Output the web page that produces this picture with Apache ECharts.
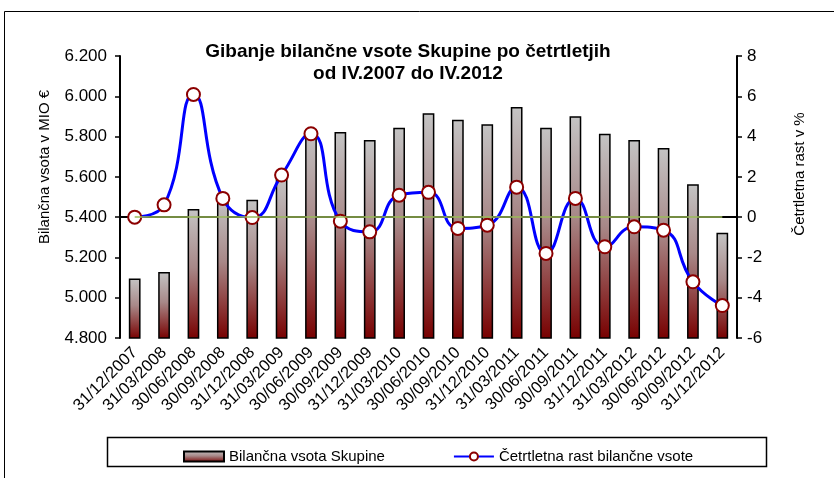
<!DOCTYPE html>
<html lang="sl">
<head>
    <meta charset="UTF-8">
    <title>Gibanje bilančne vsote</title>
    <script src="https://cdn.jsdelivr.net/npm/echarts@6/dist/echarts.min.js"></script>
    <style>
        body{ margin:0; background-color:#fff }
        #main{ width:834px; height:478px }
    </style>
</head>
<body>
<div id="main"></div>
<script type="text/javascript">
    var quarters = ['31/12/2007','31/03/2008','30/06/2008','30/09/2008','31/12/2008','31/03/2009',
        '30/06/2009','30/09/2009','31/12/2009','31/03/2010','30/06/2010','30/09/2010','31/12/2010',
        '31/03/2011','30/06/2011','30/09/2011','31/12/2011','31/03/2012','30/06/2012','30/09/2012','31/12/2012'];
    // bilancna vsota, MIO €
    var balance = [5096, 5128, 5440, 5494, 5486, 5600, 5838, 5823, 5783, 5844, 5916,
        5884, 5861, 5947, 5844, 5901, 5814, 5783, 5743, 5563, 5323];
    // cetrtletna rast v %
    var growth = [0, 0.61, 6.09, 0.93, -0.02, 2.09, 4.14, -0.2, -0.73, 1.09, 1.23,
        -0.56, -0.4, 1.49, -1.8, 0.93, -1.47, -0.48, -0.65, -3.21, -4.39];
    var leftTicks = [4800, 6200, 200];
    var rightTicks = [-6, 8, 2];

    var font = 'Liberation Sans, Arial, sans-serif';
    var myChart = echarts.init(document.getElementById('main'));

    function thousands(v) {
        var s = String(Math.round(v));
        return s.replace(/\B(?=(\d{3})+(?!\d))/g, '.');
    }

    var option = {
        backgroundColor: '#fff',
        animation: false,
        title: {
            text: 'Gibanje bilančne vsote Skupine po četrtletjih\nod IV.2007 do IV.2012',
            left: 403,
            top: 36,
            textAlign: 'center',
            textStyle: { fontFamily: font, fontSize: 19, fontWeight: 'bold', color: '#000', lineHeight: 22 }
        },
        grid: { left: 120, right: 97, top: 56, bottom: 140 },
        legend: {
            left: 178,
            top: 444,
            itemGap: 68,
            itemWidth: 40,
            itemHeight: 10,
            textStyle: { fontFamily: font, fontSize: 15, color: '#000' },
            data: [
                { name: 'Bilančna vsota Skupine', icon: 'rect' },
                { name: 'Četrtletna rast bilančne vsote' }
            ]
        },
        graphic: [
            { type: 'rect', z: -10, shape: { x: 4.5, y: 11.5, width: 900, height: 500 },
              style: { fill: null, stroke: '#000', lineWidth: 1 } },
            { type: 'rect', shape: { x: 107.5, y: 437.5, width: 659, height: 29 },
              style: { fill: null, stroke: '#000', lineWidth: 1.5 } },
            { type: 'text', x: 45, y: 167, rotation: Math.PI / 2,
              style: { text: 'Bilančna vsota v MIO €', font: '15px ' + font, fill: '#000',
                       textAlign: 'center', textVerticalAlign: 'middle' } },
            { type: 'text', x: 800, y: 174, rotation: Math.PI / 2,
              style: { text: 'Četrtletna rast v %', font: '15px ' + font, fill: '#000',
                       textAlign: 'center', textVerticalAlign: 'middle' } }
        ],
        xAxis: {
            type: 'category',
            data: quarters,
            axisLine: { lineStyle: { color: '#000', width: 2 } },
            axisTick: { inside: true, length: 6, lineStyle: { color: '#000', width: 1.5 } },
            axisLabel: { rotate: 45, interval: 0, margin: 12, fontFamily: font, fontSize: 16.5, color: '#000' }
        },
        yAxis: [
            {
                type: 'value',
                min: leftTicks[0], max: leftTicks[1], interval: leftTicks[2],
                axisLine: { show: true, lineStyle: { color: '#000', width: 2 } },
                axisTick: { show: true, length: 5, lineStyle: { color: '#000', width: 1.5 } },
                splitLine: { show: false },
                axisLabel: { margin: 13, fontFamily: font, fontSize: 17, color: '#000', formatter: thousands }
            },
            {
                type: 'value',
                min: rightTicks[0], max: rightTicks[1], interval: rightTicks[2],
                axisLine: { show: true, lineStyle: { color: '#000', width: 2 } },
                axisTick: { show: true, length: 5, lineStyle: { color: '#000', width: 1.5 } },
                splitLine: { show: false },
                axisLabel: { margin: 10, fontFamily: font, fontSize: 17, color: '#000' }
            }
        ],
        series: [
            {
                name: 'Bilančna vsota Skupine',
                type: 'bar',
                barWidth: '40%',
                itemStyle: {
                    color: new echarts.graphic.LinearGradient(0, 0, 0, 1, [
                        { offset: 0, color: '#c4c4c4' },
                        { offset: 0.45, color: '#a88888' },
                        { offset: 1, color: '#780000' }
                    ]),
                    borderColor: '#000',
                    borderWidth: 1.5
                },
                data: balance
            },
            {
                name: 'Četrtletna rast bilančne vsote',
                type: 'line',
                yAxisIndex: 1,
                smooth: 0.5,
                symbol: 'circle',
                symbolSize: 13,
                lineStyle: { color: '#0000ff', width: 3 },
                itemStyle: { color: '#fff', borderColor: '#8b0000', borderWidth: 2 },
                markLine: {
                    silent: true,
                    symbol: 'none',
                    label: { show: false },
                    lineStyle: { color: '#9bbb59', width: 1.5, type: 'solid' },
                    data: [[{ coord: [0, 0] }, { coord: [quarters.length - 1, 0] }]]
                },
                data: growth
            }
        ]
    };
    myChart.setOption(option);
</script>
</body>
</html>
